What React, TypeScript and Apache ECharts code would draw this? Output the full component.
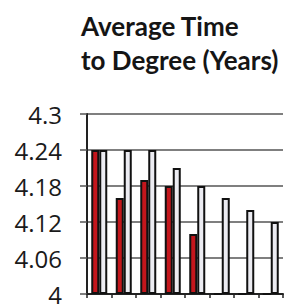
import React, { useEffect, useRef } from "react";
import * as echarts from "echarts";

const categories = ["1", "2", "3", "4", "5", "6", "7", "8"];
const redValues = [4.24, 4.16, 4.19, 4.18, 4.1, 4.0, 4.0, 4.0];
const whiteValues = [4.24, 4.24, 4.24, 4.21, 4.18, 4.16, 4.14, 4.12];
const yTicks = [4, 4.06, 4.12, 4.18, 4.24, 4.3];
const base = yTicks[0];

export default function App() {
  const ref = useRef<HTMLDivElement>(null);
  useEffect(() => {
    if (!ref.current) return;
    const chart = echarts.init(ref.current, null, { renderer: "svg" });
    const step = +(yTicks[1] - yTicks[0]).toFixed(4);
    const top = yTicks[yTicks.length - 1] - base;
    chart.setOption({
      animation: false,
      backgroundColor: "#ffffff",
      title: {
        text: "Average Time\nto Degree (Years)",
        left: 81,
        top: 9,
        padding: 0,
        textStyle: {
          fontFamily: "Lato",
          fontWeight: "bold",
          fontSize: 26,
          lineHeight: 34,
          color: "#151515",
        },
      },
      grid: { left: 87, right: 1, top: 114, bottom: 9, containLabel: false },
      xAxis: {
        type: "category",
        data: categories,
        axisLine: { lineStyle: { color: "#222", width: 2 } },
        axisTick: { show: true, length: 4, lineStyle: { color: "#222", width: 1.5 } },
        axisLabel: { show: false },
        splitLine: { show: false },
      },
      yAxis: {
        type: "value",
        min: 0,
        max: +top.toFixed(4),
        interval: step,
        axisLine: { show: true, lineStyle: { color: "#222", width: 2 } },
        axisTick: { show: true, length: 7, lineStyle: { color: "#555", width: 1.5 } },
        axisLabel: {
          margin: 25,
          fontFamily: "Open Sans",
          fontSize: 24,
          lineHeight: 17,
          color: "#1a1a1a",
          formatter: (v: number) => String(+(v + base).toFixed(2)),
        },
        splitLine: { show: true, lineStyle: { color: "#555", width: 1.5 } },
      },
      series: [
        {
          type: "bar",
          data: redValues.map((v) => +(v - base).toFixed(4)),
          barWidth: 8,
          barGap: "0%",
          itemStyle: { color: "#c4161c", borderColor: "#111", borderWidth: 2 },
        },
        {
          type: "bar",
          data: whiteValues.map((v) => +(v - base).toFixed(4)),
          barWidth: 8,
          barGap: "0%",
          itemStyle: { color: "#ececf2", borderColor: "#111", borderWidth: 2 },
        },
      ],
    });
    return () => chart.dispose();
  }, []);
  return (
    <div
      ref={ref}
      style={{ position: "fixed", left: 0, top: 0, width: 284, height: 306 }}
    />
  );
}
